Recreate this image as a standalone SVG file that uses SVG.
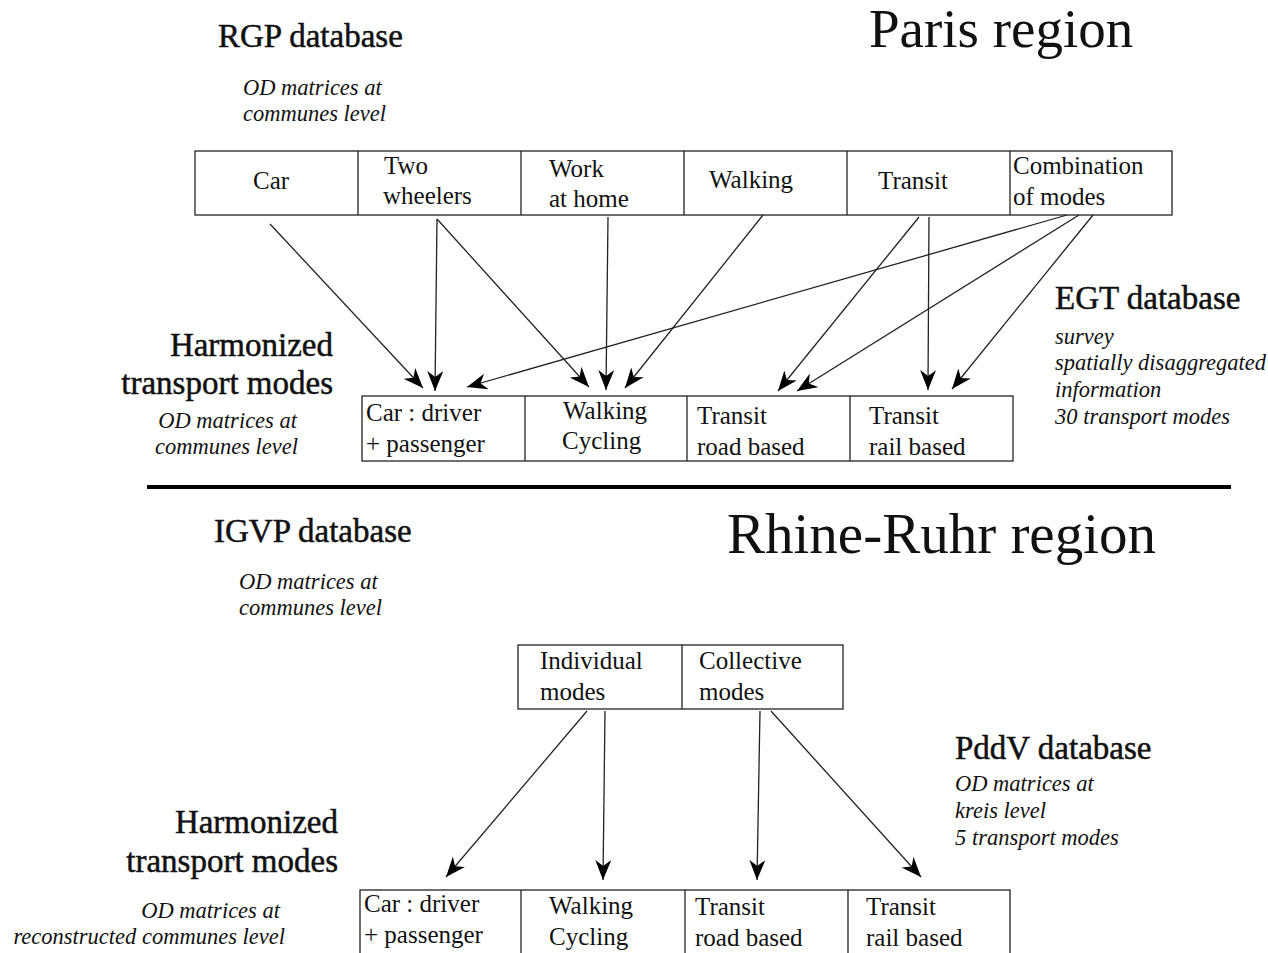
<svg xmlns="http://www.w3.org/2000/svg" width="1268" height="953" viewBox="0 0 1268 953">
<style>
.t{font-family:"Liberation Serif","Times New Roman",serif;fill:#111}
.h{font-size:33px;stroke:#111;stroke-width:0.5}
.big{font-size:55px}
.box{font-size:25px}
.it{font-size:22.5px;font-style:italic}
.r{fill:#fff;stroke:#222;stroke-width:1.3}
.d{stroke:#222;stroke-width:1.3}
.c line{stroke:#222;stroke-width:1.3;marker-end:url(#ah)}
</style>
<defs>
<marker id="ah" markerUnits="userSpaceOnUse" markerWidth="20" markerHeight="16" refX="20" refY="8" orient="auto">
<path d="M0,0 L20,8 L0,16 L6,8 z" fill="#000"/>
</marker>
</defs>
<rect width="1268" height="953" fill="#fff"/>

<g id="paris-title"><text class="t big" x="869" y="47">Paris region</text></g>
<g id="rgp"><text class="t h" x="218" y="47">RGP database</text>
<text class="t it" x="243" y="95">OD matrices at</text>
<text class="t it" x="243" y="121">communes level</text></g>

<g id="rgp-modes">
<rect class="r" x="195" y="151" width="977" height="64"/>
<line class="d" x1="358" y1="151" x2="358" y2="215"/>
<line class="d" x1="521" y1="151" x2="521" y2="215"/>
<line class="d" x1="684" y1="151" x2="684" y2="215"/>
<line class="d" x1="847" y1="151" x2="847" y2="215"/>
<line class="d" x1="1010" y1="151" x2="1010" y2="215"/>
<text class="t box" x="253" y="189">Car</text>
<text class="t box" x="384" y="174">Two</text>
<text class="t box" x="383" y="204">wheelers</text>
<text class="t box" x="549" y="177">Work</text>
<text class="t box" x="549" y="207">at home</text>
<text class="t box" x="709" y="188">Walking</text>
<text class="t box" x="878" y="189">Transit</text>
<text class="t box" x="1013" y="174">Combination</text>
<text class="t box" x="1013" y="205">of modes</text>
</g>

<g id="egt"><text class="t h" x="1055" y="309">EGT database</text>
<text class="t it" x="1055" y="344">survey</text>
<text class="t it" x="1055" y="370">spatially disaggregated</text>
<text class="t it" x="1055" y="397">information</text>
<text class="t it" x="1055" y="424">30 transport modes</text></g>

<g id="paris-harm-label"><text class="t h" x="333" y="356" text-anchor="end">Harmonized</text>
<text class="t h" x="333" y="394" text-anchor="end">transport modes</text>
<text class="t it" x="297" y="428" text-anchor="end">OD matrices at</text>
<text class="t it" x="298" y="454" text-anchor="end">communes level</text></g>

<g id="paris-harm">
<rect class="r" x="362" y="396" width="651" height="65"/>
<line class="d" x1="525" y1="396" x2="525" y2="461"/>
<line class="d" x1="687" y1="396" x2="687" y2="461"/>
<line class="d" x1="850" y1="396" x2="850" y2="461"/>
<text class="t box" x="366" y="421">Car : driver</text>
<text class="t box" x="366" y="452">+ passenger</text>
<text class="t box" x="563" y="419">Walking</text>
<text class="t box" x="562" y="449">Cycling</text>
<text class="t box" x="697" y="424">Transit</text>
<text class="t box" x="697" y="455">road based</text>
<text class="t box" x="869" y="424">Transit</text>
<text class="t box" x="869" y="455">rail based</text>
</g>

<g class="c" id="paris-connectors">
<line x1="270" y1="224" x2="423" y2="388"/>
<line x1="437" y1="219" x2="435" y2="391"/>
<line x1="437" y1="219" x2="589" y2="387"/>
<line x1="608" y1="217" x2="606" y2="390"/>
<line x1="763" y1="215" x2="625" y2="388"/>
<line x1="1067" y1="215" x2="467" y2="387"/>
<line x1="919" y1="217" x2="778" y2="391"/>
<line x1="1079" y1="215" x2="797" y2="391"/>
<line x1="929" y1="217" x2="928" y2="390"/>
<line x1="1093" y1="215" x2="952" y2="389"/>
</g>

<line x1="147" y1="487" x2="1231" y2="487" stroke="#000" stroke-width="4"/>

<g id="rhine-title"><text class="t big" x="727" y="553" style="font-size:57px">Rhine-Ruhr region</text></g>
<g id="igvp"><text class="t h" x="214" y="542">IGVP database</text>
<text class="t it" x="239" y="589">OD matrices at</text>
<text class="t it" x="239" y="615">communes level</text></g>

<g id="igvp-modes">
<rect class="r" x="518" y="645" width="325" height="64"/>
<line class="d" x1="682" y1="645" x2="682" y2="709"/>
<text class="t box" x="540" y="669">Individual</text>
<text class="t box" x="540" y="700">modes</text>
<text class="t box" x="699" y="669">Collective</text>
<text class="t box" x="699" y="700">modes</text>
</g>

<g id="pddv"><text class="t h" x="955" y="759">PddV database</text>
<text class="t it" x="955" y="791">OD matrices at</text>
<text class="t it" x="955" y="818">kreis level</text>
<text class="t it" x="955" y="845">5 transport modes</text></g>

<g id="rhine-harm-label"><text class="t h" x="338" y="833" text-anchor="end">Harmonized</text>
<text class="t h" x="338" y="872" text-anchor="end">transport modes</text>
<text class="t it" x="280" y="918" text-anchor="end">OD matrices at</text>
<text class="t it" x="285" y="944" text-anchor="end">reconstructed communes level</text></g>

<g id="rhine-harm">
<rect class="r" x="360" y="890" width="650" height="70"/>
<line class="d" x1="521" y1="890" x2="521" y2="960"/>
<line class="d" x1="685" y1="890" x2="685" y2="960"/>
<line class="d" x1="848" y1="890" x2="848" y2="960"/>
<text class="t box" x="364" y="912">Car : driver</text>
<text class="t box" x="364" y="943">+ passenger</text>
<text class="t box" x="549" y="914">Walking</text>
<text class="t box" x="549" y="945">Cycling</text>
<text class="t box" x="695" y="915">Transit</text>
<text class="t box" x="695" y="946">road based</text>
<text class="t box" x="866" y="915">Transit</text>
<text class="t box" x="866" y="946">rail based</text>
</g>

<g class="c" id="rhine-connectors">
<line x1="587" y1="711" x2="446" y2="877"/>
<line x1="605" y1="711" x2="603" y2="880"/>
<line x1="760" y1="711" x2="757" y2="880"/>
<line x1="771" y1="711" x2="921" y2="877"/>
</g>
</svg>
